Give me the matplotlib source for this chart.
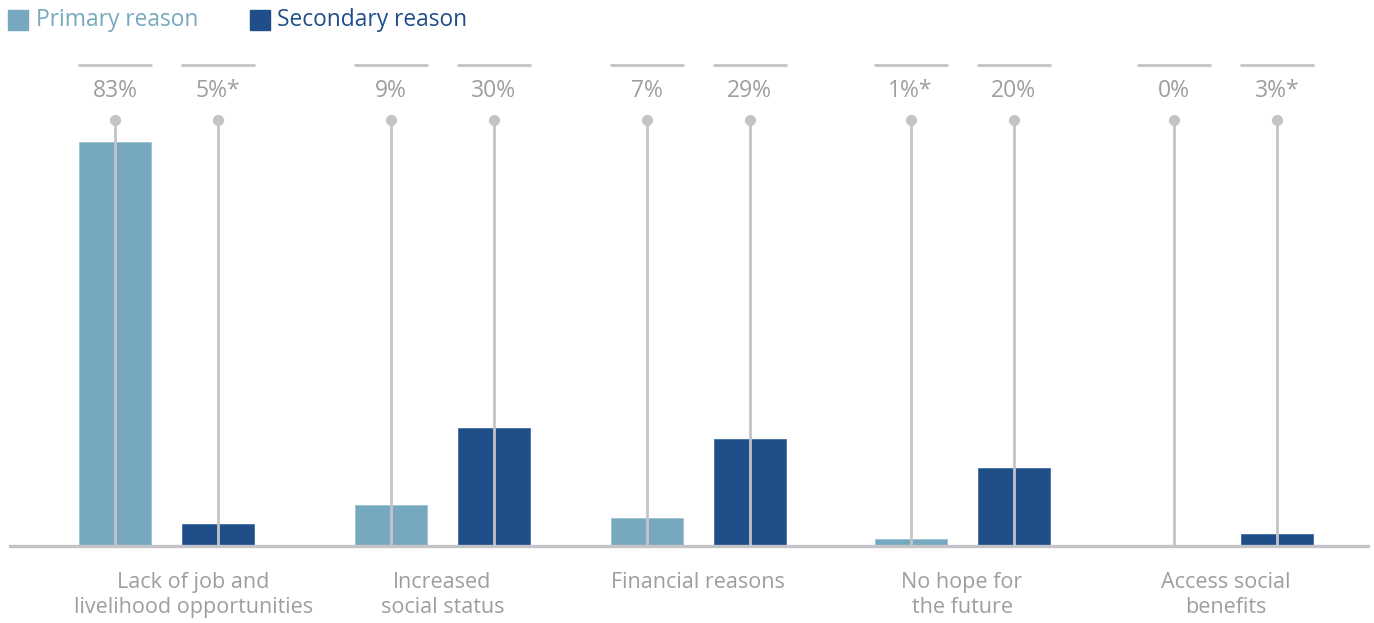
import matplotlib.pyplot as plt
from matplotlib.patches import Rectangle

# data
categories = ["Lack of job and\nlivelihood opportunities", "Increased\nsocial status",
              "Financial reasons", "No hope for\nthe future", "Access social\nbenefits"]
primary = [83, 8.4, 5.7, 1.4, 0]
secondary = [4.5, 24.2, 22.0, 16.0, 2.5]
primary_labels = ["83%", "9%", "7%", "1%*", "0%"]
secondary_labels = ["5%*", "30%", "29%", "20%", "3%*"]

C_PRI = "#76a9bf"
C_SEC = "#1f4e89"
C_LINE = "#c4c4c8"
C_TEXT = "#9e9ea2"

plt.rcParams['font.family'] = ['Open Sans', 'DejaVu Sans']

W, H = 1374, 623
fig = plt.figure(figsize=(W / 100, H / 100), dpi=100)
ax = fig.add_axes([0, 77 / H, 1, 487 / H])

# group centres (pixel units on the x axis), spacing is not perfectly even
x = [166.5, 442.5, 698, 962, 1225.5]
off = 51.5
bw = 72
xp = [i - off for i in x]
xs = [i + off for i in x]

ax.bar(xp, primary, width=bw, color=C_PRI, edgecolor="#9cc3d4", linewidth=0.6, zorder=2)
ax.bar(xs, secondary, width=bw, color=C_SEC, edgecolor="#3f6da3", linewidth=0.6, zorder=2)

ax.set_xlim(0, W)
ax.set_ylim(0, 100)
ax.axis("off")

# baseline
ax.axhline(0, xmin=10 / W, xmax=1368 / W, color=C_LINE, lw=2.4, zorder=3, clip_on=False)

y_top, y_lab, y_dot = 98.8, 93.4, 87.5
for xx, lab in list(zip(xp, primary_labels)) + list(zip(xs, secondary_labels)):
    ax.plot([xx - 37, xx + 37], [y_top, y_top], color=C_LINE, lw=2, clip_on=False,
            solid_capstyle="butt")
    ax.text(xx, y_lab, lab, ha="center", va="center", fontsize=16.5, color=C_TEXT)
    ax.plot([xx, xx], [0, y_dot], color=C_LINE, lw=2, zorder=4)
    ax.plot(xx, y_dot, "o", ms=7, color=C_LINE, zorder=5)

for i, cat in enumerate(categories):
    ax.text(x[i] + (27 if i == 0 else 0), -5.3, cat, ha="center", va="top", fontsize=15.5,
            color=C_TEXT, linespacing=1.27)

# legend
fig.patches.append(Rectangle((8 / W, 1 - 30 / H), 20 / W, 20 / H, color=C_PRI,
                             transform=fig.transFigure, figure=fig))
fig.text(36 / W, 1 - 20 / H, "Primary reason", color=C_PRI, fontsize=16.4, va="center")
fig.patches.append(Rectangle((250 / W, 1 - 30 / H), 20 / W, 20 / H, color=C_SEC,
                             transform=fig.transFigure, figure=fig))
fig.text(277 / W, 1 - 20 / H, "Secondary reason", color=C_SEC, fontsize=16.4, va="center")

fig.savefig("out.png", dpi=100)
